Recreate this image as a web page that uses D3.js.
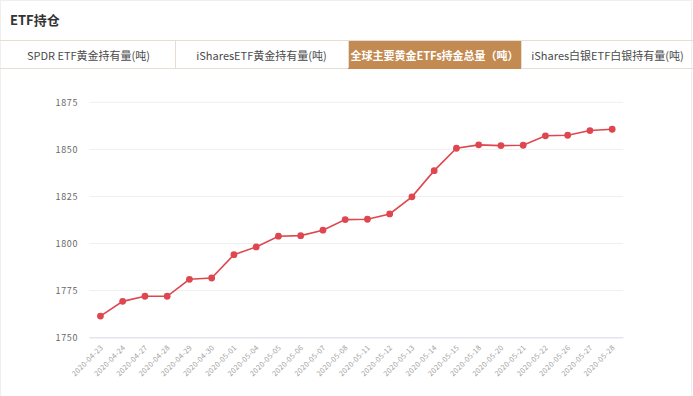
<!DOCTYPE html>
<html>
<head>
<meta charset="utf-8">
<script src="https://cdn.jsdelivr.net/npm/d3@7"></script>
<style>
  body { margin: 0; background: #fff; }
  svg { display: block; font-family: "Noto Sans CJK SC", "Noto Sans", sans-serif; }
</style>
</head>
<body>
<svg id="chart" width="693" height="396"></svg>
<script>
// data
const title = "ETF持仓";
const tabs = ["SPDR ETF黄金持有量(吨)", "iSharesETF黄金持有量(吨)", "全球主要黄金ETFs持金总量（吨）", "iShares白银ETF白银持有量(吨)"];
const activeTab = 2;
const dates = ["2020-04-23", "2020-04-24", "2020-04-27", "2020-04-28", "2020-04-29", "2020-04-30",
  "2020-05-01", "2020-05-04", "2020-05-05", "2020-05-06", "2020-05-07", "2020-05-08",
  "2020-05-11", "2020-05-12", "2020-05-13", "2020-05-14", "2020-05-15", "2020-05-18",
  "2020-05-20", "2020-05-21", "2020-05-22", "2020-05-26", "2020-05-27", "2020-05-28"];
const holdings = [1761.5, 1769.3, 1772.0, 1772.0, 1781.0, 1781.7,
  1794.1, 1798.2, 1803.9, 1804.2, 1807.1, 1812.7,
  1812.9, 1815.7, 1824.8, 1838.7, 1850.6, 1852.4,
  1852.0, 1852.2, 1857.2, 1857.5, 1860.0, 1860.7];
const yTicks = [1750, 1775, 1800, 1825, 1850, 1875];

const svg = d3.select("#chart");

// outer panel border
svg.append("rect")
  .attr("x", 0.5).attr("y", 0.5)
  .attr("width", 691).attr("height", 396)
  .attr("fill", "none")
  .attr("stroke", "#efefef");

// title
svg.append("text")
  .attr("x", 10).attr("y", 25)
  .attr("font-size", 13)
  .attr("font-weight", "bold")
  .attr("fill", "#333")
  .text(title);

// tab bar
const tabW = 173, tabX0 = 2, tabY = 40, tabH = 28;
svg.append("line")
  .attr("x1", 0).attr("x2", 693)
  .attr("y1", tabY + 0.5).attr("y2", tabY + 0.5)
  .attr("stroke", "#e6ddd3");
svg.append("line")
  .attr("x1", 0).attr("x2", 693)
  .attr("y1", tabY + tabH + 0.5).attr("y2", tabY + tabH + 0.5)
  .attr("stroke", "#e6ddd3");

tabs.forEach((t, i) => {
  const x = tabX0 + i * tabW;
  if (i === activeTab) {
    svg.append("rect")
      .attr("x", x).attr("y", tabY + 1)
      .attr("width", tabW).attr("height", tabH)
      .attr("fill", "#c38a52");
  }
  if (i > 0) {
    svg.append("line")
      .attr("x1", x + 0.5).attr("x2", x + 0.5)
      .attr("y1", tabY).attr("y2", tabY + tabH)
      .attr("stroke", "#e6ddd3");
  }
  svg.append("text")
    .attr("x", x + tabW / 2).attr("y", tabY + tabH / 2 + 1)
    .attr("text-anchor", "middle")
    .attr("dominant-baseline", "central")
    .attr("font-size", 11)
    .attr("font-weight", i === activeTab ? "bold" : "normal")
    .attr("fill", i === activeTab ? "#fff" : "#4a4a4a")
    .text(t);
});

// scales
const x = d3.scaleBand().domain(dates).range([89.3, 623.3]);
const y = d3.scaleLinear().domain([1750, 1875]).range([337.7, 102.3]);

// grid + y labels
const grid = svg.append("g");
yTicks.forEach(v => {
  grid.append("line")
    .attr("x1", 89.3).attr("x2", 623.3)
    .attr("y1", y(v)).attr("y2", y(v))
    .attr("stroke", v === 1750 ? "#e4e4ee" : "#efefef")
    .attr("stroke-width", v === 1750 ? 1.6 : 1);
  grid.append("text")
    .attr("x", 78).attr("y", y(v))
    .attr("text-anchor", "end")
    .attr("dominant-baseline", "central")
    .attr("font-size", 9)
    .attr("letter-spacing", 0.6)
    .attr("fill", "#666")
    .text(v);
});

// x labels, rotated
const cx = d => x(d) + x.bandwidth() / 2;
svg.append("g").selectAll("text")
  .data(dates)
  .join("text")
  .attr("transform", d => `translate(${cx(d) + 1},${346}) rotate(-45)`)
  .attr("text-anchor", "end")
  .attr("dominant-baseline", "central")
  .attr("font-size", 7.3)
  .attr("letter-spacing", 0.3)
  .attr("fill", "#a0a0a0")
  .text(d => d);

// line + dots
const pts = dates.map((d, i) => [cx(d), y(holdings[i])]);
svg.append("path")
  .attr("d", d3.line()(pts))
  .attr("fill", "none")
  .attr("stroke", "#df4750")
  .attr("stroke-width", 1.6);

svg.append("g").selectAll("circle")
  .data(pts)
  .join("circle")
  .attr("cx", p => p[0]).attr("cy", p => p[1])
  .attr("r", 3.4)
  .attr("fill", "#df4750");
</script>
</body>
</html>
